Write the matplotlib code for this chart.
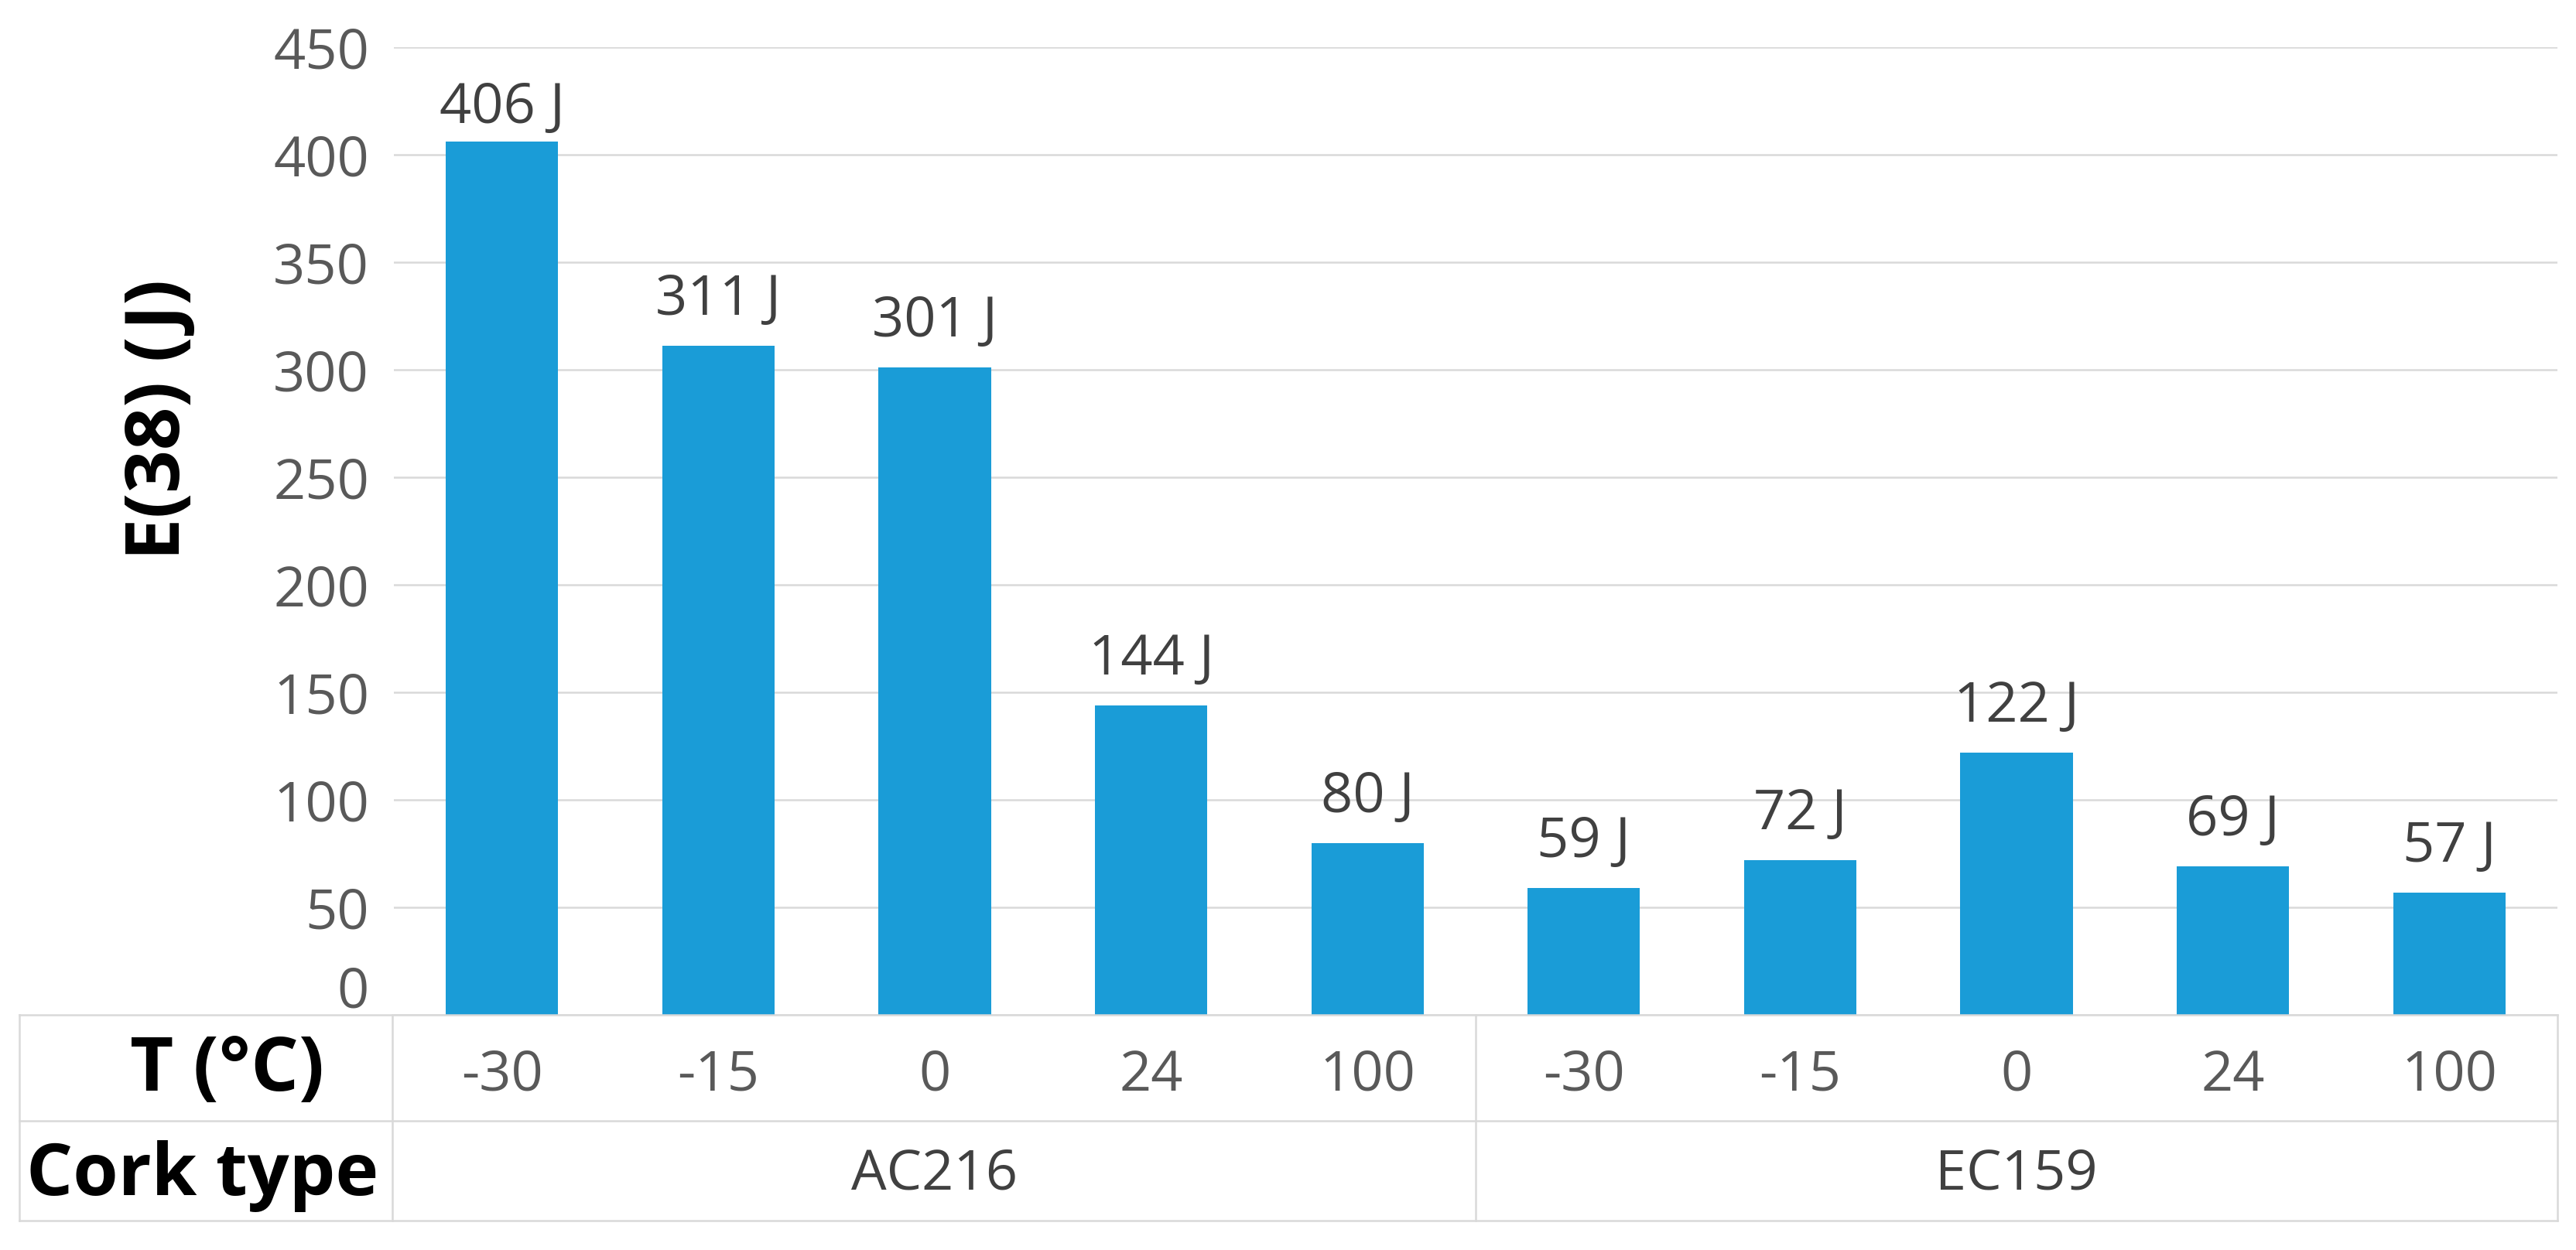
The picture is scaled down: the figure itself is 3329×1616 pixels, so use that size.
import numpy as np
import matplotlib
matplotlib.use('Agg')
import matplotlib.pyplot as plt
from matplotlib.lines import Line2D
import matplotlib.transforms as mtransforms

# ---- data ----
temperatures = ['-30', '-15', '0', '24', '100', '-30', '-15', '0', '24', '100']
cork_types = ['AC216', 'EC159']
cork_groups = [[0, 1, 2, 3, 4], [5, 6, 7, 8, 9]]
energy = [406, 311, 301, 144, 80, 59, 72, 122, 69, 57]
y_ticks = [0, 50, 100, 150, 200, 250, 300, 350, 400, 450]
y_label = 'E(38) (J)'
row_labels = ['T (°C)', 'Cork type']

plt.rcParams['font.family'] = ['Open Sans', 'DejaVu Sans']

W, H, DPI = 3329, 1616, 100
fig = plt.figure(figsize=(W / DPI, H / DPI), dpi=DPI)
fig.patch.set_facecolor('white')

def fx(px):
    return px / W

def fy(py):
    return 1 - py / H

ax_l, ax_r, ax_t, ax_b = 509, 3305, 61, 1312
ax = fig.add_axes([fx(ax_l), fy(ax_b), (ax_r - ax_l) / W, (ax_b - ax_t) / H])

x = np.arange(len(energy))
ax.bar(x, energy, width=0.52, color='#1a9cd7', zorder=3)
ax.set_xlim(-0.5, len(energy) - 0.5)
ax.set_ylim(0, 450)
ax.set_yticks(y_ticks)
ax.set_yticklabels([''] + [str(t) for t in y_ticks[1:]])
ax.set_xticks([])
ax.yaxis.grid(True, color='#d9d9d9', lw=1.8, zorder=0)
for s in ax.spines.values():
    s.set_visible(False)
ax.tick_params(axis='y', length=0, pad=23, labelsize=52, labelcolor='#595959')

# zero tick label sits slightly above the baseline
ax.annotate(str(y_ticks[0]), xy=(0, 0), xycoords=('axes fraction', 'data'),
            xytext=(-23, 28 * 0.72), textcoords='offset points',
            ha='right', va='center', fontsize=52, color='#595959')

# data labels (the tallest one is squeezed closer to its bar)
vmax = max(energy)
for xi, v in zip(x, energy):
    gap = 24 if v == vmax else 40
    ax.annotate(f'{v} J', xy=(xi, v), xytext=(0, gap * 0.72), textcoords='offset points',
                ha='center', va='baseline', fontsize=52, color='#404040')

# ---- table below ----
line_kw = dict(color='#d9d9d9', lw=1.8, transform=fig.transFigure)
t_left, t_div, t_right = 25, 507, 3305
t_mid = 1907
t_top, t_row, t_bot = 1312, 1449, 1578
for yy in (t_top, t_row, t_bot):
    fig.add_artist(Line2D([fx(t_left), fx(t_right)], [fy(yy), fy(yy)], **line_kw))
for xx in (t_left, t_div, t_mid, t_right):
    fig.add_artist(Line2D([fx(xx), fx(xx)], [fy(t_top), fy(t_bot)], **line_kw))

blend = mtransforms.blended_transform_factory(ax.transData, fig.transFigure)
for xi, t in zip(x, temperatures):
    fig.text(xi, fy(1410), t, transform=blend, ha='center', va='baseline',
             fontsize=52, color='#595959')
for name, idx in zip(cork_types, cork_groups):
    fig.text(np.mean(idx), fy(1538), name, transform=blend, ha='center', va='baseline',
             fontsize=52, color='#404040')

fig.text(fx(293), fy(1410), row_labels[0], ha='center', va='baseline',
         fontsize=70, fontweight='bold', color='black')
fig.text(fx(262), fy(1545), row_labels[1], ha='center', va='baseline',
         fontsize=68, fontweight='bold', color='black')

fig.text(fx(207), fy(542), y_label, rotation=90, ha='center', va='center',
         fontsize=70, fontweight='bold', color='black')

fig.savefig('out.png', dpi=DPI, facecolor='white')
